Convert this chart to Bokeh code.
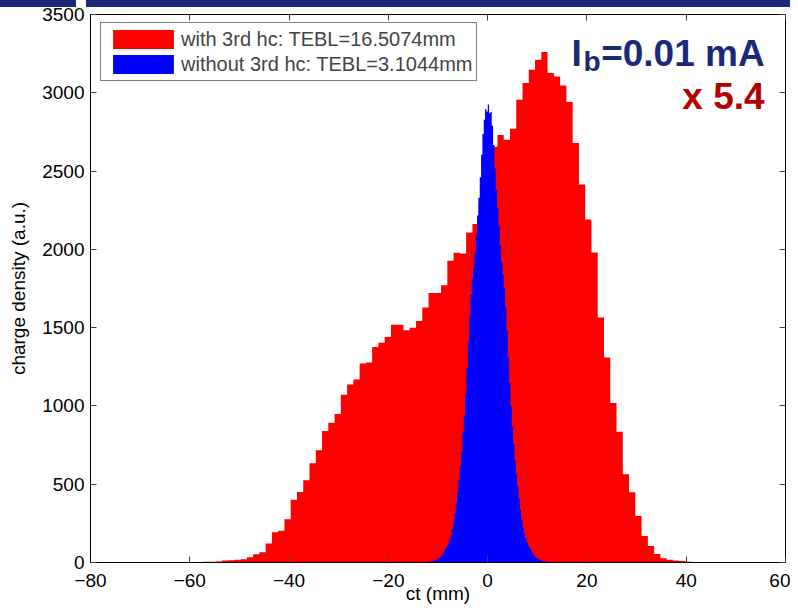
import numpy as np
from bokeh.plotting import figure
from bokeh.layouts import column, row
from bokeh.models import (Range1d, FixedTicker, LinearAxis, Legend, LegendItem,
                          Label, CustomJSTickFormatter, Div, Spacer)
from bokeh.embed import file_html
from bokeh.resources import INLINE

# ---- data ----
red_ct_min = -57.34
red_ct_max = 43.63
red_counts = [5, 5, 7, 13, 15, 17, 21, 34, 53, 66,
              121, 194, 202, 277, 400, 451, 525, 634, 717, 840,
              893, 949, 1072, 1137, 1169, 1271, 1277, 1377, 1403, 1441,
              1518, 1518, 1484, 1499, 1543, 1628, 1722, 1722, 1771, 1928,
              1978, 1973, 2108, 2162, 2300, 2480, 2655, 2730, 2700, 2771,
              2956, 3062, 3147, 3211, 3260, 3126, 3104, 3047, 2941, 2679,
              2415, 2190, 1980, 1564, 1309, 1018, 835, 563, 448, 297,
              169, 105, 54, 27, 18, 12, 9, 5, 3, 2]

blue_ct_min = -13.15
blue_ct_max = 13.73
blue_counts = [1, 2, 3, 3, 4, 5, 6, 9, 11, 14,
               18, 23, 28, 34, 42, 59, 74, 89, 104, 121,
               143, 172, 210, 250, 315, 380, 452, 532, 615, 705,
               828, 940, 1077, 1241, 1408, 1570, 1710, 1810, 1882, 1979,
               2096, 2217, 2330, 2460, 2604, 2737, 2828, 2895, 2880, 2925,
               2870, 2878, 2790, 2667, 2520, 2380, 2268, 2150, 2024, 1921,
               1840, 1750, 1630, 1480, 1308, 1146, 1000, 868, 757, 654,
               565, 487, 410, 340, 277, 225, 188, 157, 130, 110,
               95, 80, 65, 49, 37, 30, 25, 20, 17, 13,
               10, 7, 6, 4, 4, 3, 2, 2, 1, 1]

red_label = "with 3rd hc: TEBL=16.5074mm"
blue_label = "without 3rd hc: TEBL=3.1044mm"
x_ticks = [-80, -60, -40, -20, 0, 20, 40, 60]
y_ticks = [0, 500, 1000, 1500, 2000, 2500, 3000, 3500]
x_label = "ct (mm)"
y_label = "charge density (a.u.)"


def step_outline(lo, hi, counts):
    edges = np.linspace(lo, hi, len(counts) + 1)
    xs = [edges[0]]
    ys = [0]
    for i, c in enumerate(counts):
        xs += [edges[i], edges[i + 1]]
        ys += [c, c]
    xs.append(edges[-1])
    ys.append(0)
    return xs, ys


FONT = "Liberation Sans"
navy = "#1b2a78"
dred = "#b30000"

p = figure(width=790, height=608, x_range=Range1d(-80, 60), y_range=Range1d(0, 3500),
           output_backend="svg", toolbar_location=None,
           min_border_left=90, min_border_right=5, min_border_top=14, min_border_bottom=46,
           background_fill_color="white", border_fill_color="white", border_fill_alpha=0,
           outline_line_color="black", outline_line_width=1)
p.margin = (-7, 0, 0, 0)
p.grid.visible = False

rx, ry = step_outline(red_ct_min, red_ct_max, red_counts)
bx, by = step_outline(blue_ct_min, blue_ct_max, blue_counts)
red_r = p.patch(x=rx, y=ry, fill_color="#ff0000", line_color=None)
blue_r = p.patch(x=bx, y=by, fill_color="#0000ff", line_color=None)

fmt = CustomJSTickFormatter(code="return tick < 0 ? '\u2212' + (-tick) : '' + tick;")

xa = p.below[0]
ya = p.left[0]
for ax, ticks in ((xa, x_ticks), (ya, y_ticks)):
    ax.ticker = FixedTicker(ticks=ticks)
    ax.formatter = fmt
    ax.major_tick_in = 6
    ax.major_tick_out = 0
    ax.minor_tick_line_color = None
    ax.major_tick_line_color = "#404040"
    ax.axis_line_color = "black"
    ax.major_label_text_font = FONT
    ax.major_label_text_font_size = "19px"
    ax.major_label_text_color = "black"
    ax.axis_label_text_font = FONT
    ax.axis_label_text_font_size = "19px"
    ax.axis_label_text_font_style = "normal"
    ax.axis_label_text_color = "black"
xa.axis_label = x_label
ya.axis_label = y_label
xa.major_label_standoff = 11
xa.axis_label_standoff = -7
ya.major_label_standoff = 6
ya.axis_label_standoff = 10

for loc, ticks in (("above", x_ticks), ("right", y_ticks)):
    ax = LinearAxis(ticker=FixedTicker(ticks=ticks),
                    formatter=CustomJSTickFormatter(code="return '';"),
                    major_label_text_font_size="0px", major_label_standoff=0,
                    major_tick_in=6, major_tick_out=0, minor_tick_line_color=None,
                    major_tick_line_color="#404040", axis_line_color=None)
    p.add_layout(ax, loc)

legend = Legend(items=[LegendItem(label=red_label, renderers=[red_r]),
                       LegendItem(label=blue_label, renderers=[blue_r])],
                location=(10, 481), padding=4, spacing=1, margin=0,
                glyph_width=76, glyph_height=24, label_height=24, label_standoff=-2,
                label_text_font=FONT, label_text_font_size="20px",
                border_line_color="black", border_line_width=1,
                background_fill_color="white", background_fill_alpha=1)
p.add_layout(legend)

p.add_layout(Label(x=16.9, y=3251, text="I", text_font=FONT, text_font_size="37px",
                   text_font_style="bold", text_color=navy, text_baseline="alphabetic"))
p.add_layout(Label(x=19.3, y=3197, text="b", text_font=FONT, text_font_size="28px",
                   text_font_style="bold", text_color=navy, text_baseline="alphabetic"))
p.add_layout(Label(x=55.8, y=3251, text="=0.01 mA", text_font=FONT, text_font_size="37px",
                   text_font_style="bold", text_color=navy, text_align="right",
                   text_baseline="alphabetic"))
p.add_layout(Label(x=55.8, y=2976, text="x 5.4", text_font=FONT, text_font_size="37px",
                   text_font_style="bold", text_color=dred, text_align="right",
                   text_baseline="alphabetic"))

# slide banner strip along the top edge (the figure overlaps it with a transparent border)
banner = row(Div(width=76, height=7, margin=0, styles={"background-color": navy}),
             Spacer(width=10, height=7, margin=0),
             Div(width=704, height=7, margin=0, styles={"background-color": navy}),
             spacing=0)
layout = column(banner, p, spacing=0)

open("out.html", "w").write(file_html(layout, INLINE))
